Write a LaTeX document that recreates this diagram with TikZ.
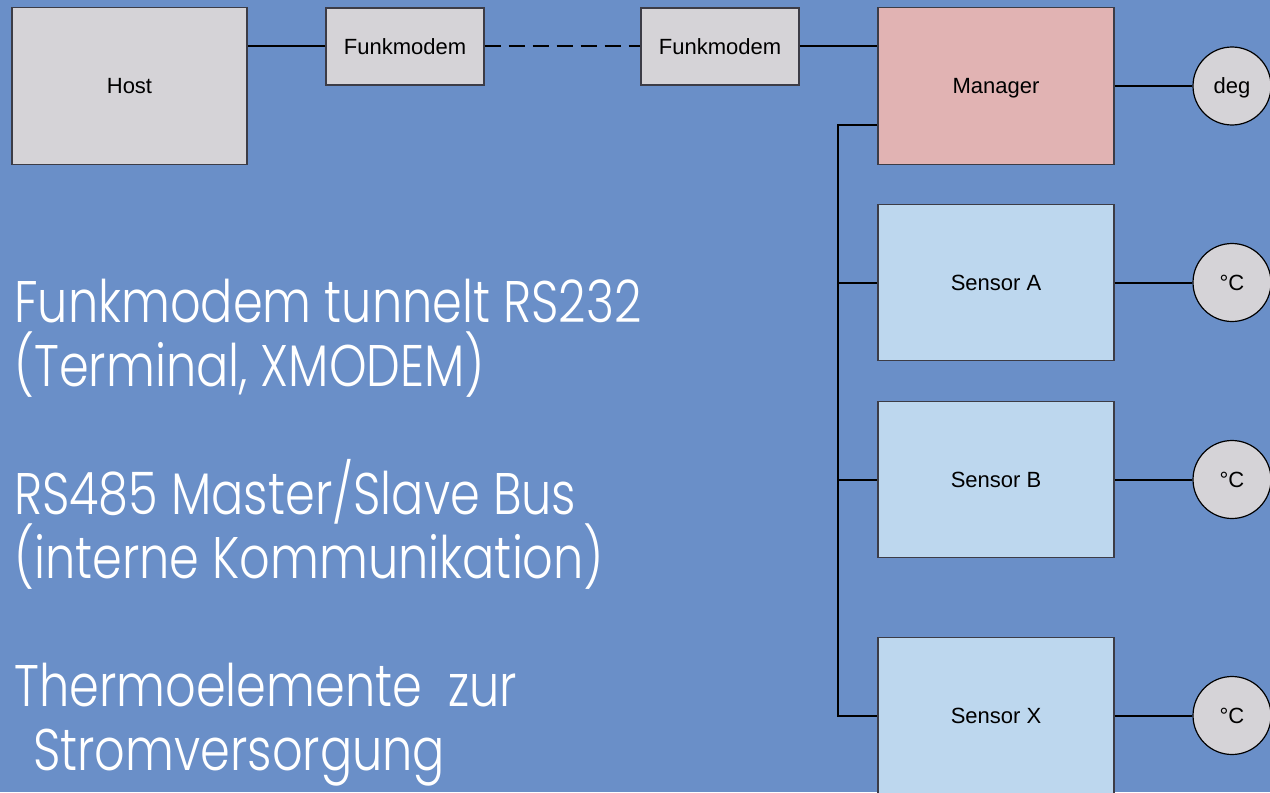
\documentclass[tikz,border=0pt]{standalone}
\usepackage{fontspec}
\setmainfont{Liberation Sans}
\newfontfamily\slidefont{Poppins}[UprightFont=* Light,FakeStretch=0.815]
\definecolor{bgblue}{RGB}{106,143,200}
\definecolor{boxgrey}{RGB}{213,211,215}
\definecolor{mgrpink}{RGB}{225,179,179}
\definecolor{senblue}{RGB}{189,215,238}
\definecolor{edgegrey}{RGB}{60,60,70}
\begin{document}
\begin{tikzpicture}[x=0.75pt,y=-0.75pt,
  blk/.style={draw=edgegrey,line width=0.9pt,rectangle,inner sep=0pt,font=\fontsize{16.5}{19}\selectfont,text=black,text depth=0pt},
  big/.style={blk,minimum width=177pt,minimum height=117.5pt},
  small/.style={blk,fill=boxgrey,minimum width=118.5pt,minimum height=57.75pt},
  probe/.style={draw=black,line width=0.9pt,circle,fill=boxgrey,minimum size=58.5pt,inner sep=0pt,font=\fontsize{16.5}{19}\selectfont,text depth=0pt},
  wire/.style={draw=black,line width=1.5pt},
  slide/.style={anchor=base west,inner sep=0pt,text=white,font=\slidefont\fontsize{44}{48}\selectfont}]
\useasboundingbox (0,0) rectangle (1270,792);
\fill[bgblue] (0,0) rectangle (1270,792);
\node[big,fill=boxgrey,minimum width=176.25pt] (host) at (129.5,86) {Host};
\node[small] (f1) at (405,46.5) {Funkmodem};
\node[small] (f2) at (720,46.5) {Funkmodem};
\node[big,fill=mgrpink] (man) at (996,86) {Manager};
\node[big,fill=senblue] (sa) at (996,282.5) {Sensor A};
\node[big,fill=senblue] (sb) at (996,479.5) {Sensor B};
\node[big,fill=senblue] (sx) at (996,715.5) {Sensor X};
\node[probe] (deg) at (1232,86) {deg};
\node[probe] (ca) at (1232,282.5) {°C};
\node[probe] (cb) at (1232,479.5) {°C};
\node[probe] (cx) at (1232,715.5) {°C};
\coordinate (b0) at (838,125);
\draw[wire] (f1.west) -- (f1.west -| host.east);
\draw[wire,dash pattern=on 12pt off 6pt] (f1.east) -- (f2.west);
\draw[wire] (f2.east) -- (f2.east -| man.west);
\draw[wire] (man.east) -- (deg.west);
\draw[wire] (sa.east) -- (ca.west);
\draw[wire] (sb.east) -- (cb.west);
\draw[wire] (sx.east) -- (cx.west);
\draw[wire] (b0 -| man.west) -- (b0) -- (b0 |- sx.west) -- (sx.west);
\draw[wire] (b0 |- sa.west) -- (sa.west);
\draw[wire] (b0 |- sb.west) -- (sb.west);
\node[slide] (t1) at (14,322) {Funkmodem tunnelt RS232};
\node[slide] (t2) at (14,386) {(Terminal, XMODEM)};
\node[slide] (t3) at (14,514) {RS485 Master/Slave Bus};
\node[slide] (t4) at (14,578) {(interne Kommunikation)};
\node[slide] (t5) at (14,706) {Thermoelemente\ \ zur};
\node[slide] (t6) at (33,770) {Stromversorgung};
\end{tikzpicture}
\end{document}
